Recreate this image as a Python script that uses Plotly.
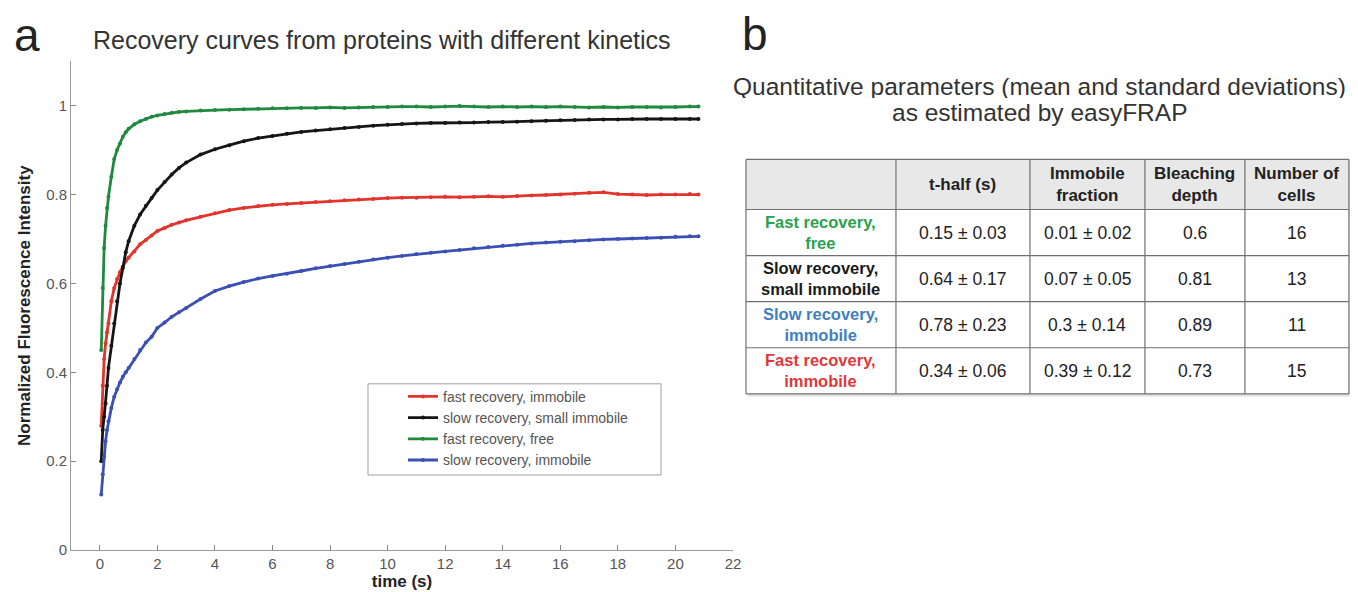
import plotly.graph_objects as go

# figure size and the mapping from the reference picture's pixels to paper fractions
W, H = 1358, 585
OFF = 8                 # browser body margin
SX, SY = 0.9942, 0.9845  # measured page -> picture scaling

# ---------------- data ----------------
time_s = [0.05, 0.1, 0.15, 0.2, 0.25, 0.3, 0.4, 0.5, 0.6, 0.7, 0.8, 0.9, 1.0,
          1.2, 1.4, 1.6, 1.8, 2.0, 2.25, 2.5, 2.75, 3.0, 3.5, 4.0, 4.5, 5.0,
          5.5, 6.0, 6.5, 7.0, 7.5, 8.0, 8.5, 9.0, 9.5, 10.0, 10.5, 11.0, 11.5,
          12.0, 12.5, 13.0, 13.5, 14.0, 14.5, 15.0, 15.5, 16.0, 16.5, 17.0,
          17.5, 18.0, 18.5, 19.0, 19.5, 20.0, 20.5, 20.8]

fast_immobile = [0.28, 0.37, 0.43, 0.465, 0.49, 0.51, 0.56, 0.59, 0.61, 0.625,
                 0.638, 0.65, 0.658, 0.672, 0.688, 0.698, 0.708, 0.718, 0.725,
                 0.732, 0.737, 0.742, 0.75, 0.758, 0.765, 0.77, 0.774, 0.777,
                 0.779, 0.781, 0.783, 0.785, 0.787, 0.789, 0.79, 0.792, 0.793,
                 0.793, 0.794, 0.795, 0.794, 0.795, 0.796, 0.795, 0.797, 0.798,
                 0.799, 0.8, 0.802, 0.804, 0.805, 0.801, 0.8, 0.799, 0.8, 0.8,
                 0.801, 0.8]

slow_small_immobile = [0.2, 0.27, 0.3, 0.33, 0.37, 0.41, 0.46, 0.51, 0.56, 0.6,
                       0.635, 0.67, 0.695, 0.73, 0.755, 0.775, 0.792, 0.81,
                       0.828, 0.845, 0.86, 0.872, 0.89, 0.902, 0.911, 0.92,
                       0.927, 0.932, 0.937, 0.941, 0.944, 0.947, 0.95, 0.952,
                       0.955, 0.957, 0.959, 0.96, 0.961, 0.961, 0.962, 0.962,
                       0.963, 0.963, 0.964, 0.965, 0.966, 0.967, 0.968, 0.969,
                       0.969, 0.969, 0.97, 0.97, 0.97, 0.97, 0.97, 0.97]

fast_free = [0.45, 0.59, 0.68, 0.73, 0.77, 0.795, 0.84, 0.88, 0.9, 0.915,
             0.93, 0.94, 0.948, 0.958, 0.965, 0.97, 0.975, 0.978, 0.981,
             0.984, 0.986, 0.987, 0.989, 0.99, 0.991, 0.992, 0.993, 0.994,
             0.994, 0.995, 0.995, 0.996, 0.995, 0.996, 0.997, 0.997, 0.998,
             0.998, 0.997, 0.998, 0.999, 0.998, 0.997, 0.998, 0.997, 0.998,
             0.997, 0.998, 0.997, 0.996, 0.997, 0.996, 0.997, 0.997, 0.996,
             0.997, 0.998, 0.998]

slow_immobile = [0.125, 0.17, 0.21, 0.245, 0.27, 0.29, 0.32, 0.345, 0.362,
                 0.377, 0.39, 0.4, 0.41, 0.43, 0.45, 0.467, 0.48, 0.5, 0.512,
                 0.525, 0.535, 0.545, 0.565, 0.583, 0.594, 0.603, 0.611, 0.617,
                 0.622, 0.628, 0.634, 0.639, 0.644, 0.649, 0.654, 0.658, 0.662,
                 0.666, 0.669, 0.672, 0.675, 0.679, 0.682, 0.685, 0.687, 0.69,
                 0.692, 0.694, 0.695, 0.697, 0.699, 0.7, 0.701, 0.702, 0.703,
                 0.705, 0.706, 0.706]

series_names = ["fast recovery, immobile", "slow recovery, small immobile",
                "fast recovery, free", "slow recovery, immobile"]
series_values = [fast_immobile, slow_small_immobile, fast_free, slow_immobile]
series_colors = ["#e2342c", "#151515", "#1f8a3e", "#3b50b4"]

x_tick_vals = [0, 2, 4, 6, 8, 10, 12, 14, 16, 18, 20, 22]
y_tick_vals = [0, 0.2, 0.4, 0.6, 0.8, 1.0]
y_tick_text = ["0", "0.2", "0.4", "0.6", "0.8", "1"]

table_header = ["", "t-half (s)", "Immobile<br>fraction", "Bleaching<br>depth",
                "Number of<br>cells"]
row_labels = ["Fast recovery,<br>free", "Slow recovery,<br>small immobile",
              "Slow recovery,<br>immobile", "Fast recovery,<br>immobile"]
row_label_colors = ["#2aa24c", "#1a1a1a", "#3f7fbf", "#e0383a"]
t_half = ["0.15 ± 0.03", "0.64 ± 0.17", "0.78 ± 0.23", "0.34 ± 0.06"]
immobile_fraction = ["0.01 ± 0.02", "0.07 ± 0.05", "0.3 ± 0.14", "0.39 ± 0.12"]
bleaching_depth = ["0.6", "0.81", "0.89", "0.73"]
number_of_cells = ["16", "13", "11", "15"]

# ---------------- layout helpers (picture pixel -> paper fraction) ----------------
FONT = "Arial, 'Liberation Sans', sans-serif"
def px(x):
    return (x / SX - OFF) / W
def py(y):
    return 1 - (y / SY - OFF) / H

fig = go.Figure()

for name, vals, col in zip(series_names, series_values, series_colors):
    fig.add_trace(go.Scatter(
        x=time_s, y=vals, name=name, mode="lines+markers",
        line=dict(color=col, width=2.8),
        marker=dict(color=col, size=4),
    ))

# ---------------- table (panel b) ----------------
col_edges = [746, 896, 1030, 1145, 1245, 1349]
row_edges = [159, 209, 255, 301, 347, 393]
TXT = "#222"
shapes = []
annotations = []

shapes.append(dict(type="rect", xref="paper", yref="paper", layer="below",
                   x0=px(col_edges[0] + 2), x1=px(col_edges[-1] + 2),
                   y0=py(row_edges[-1] + 3), y1=py(row_edges[0] + 2),
                   line=dict(width=0), fillcolor="#e4e4e4"))
shapes.append(dict(type="rect", xref="paper", yref="paper", layer="below",
                   x0=px(col_edges[0]), x1=px(col_edges[-1]),
                   y0=py(row_edges[-1]), y1=py(row_edges[0]),
                   line=dict(width=0), fillcolor="white"))
shapes.append(dict(type="rect", xref="paper", yref="paper", layer="below",
                   x0=px(col_edges[0]), x1=px(col_edges[-1]),
                   y0=py(row_edges[1]), y1=py(row_edges[0]),
                   line=dict(width=0), fillcolor="#e8e8e8"))
for xe in col_edges:
    shapes.append(dict(type="line", xref="paper", yref="paper",
                       x0=px(xe), x1=px(xe), y0=py(row_edges[-1]), y1=py(row_edges[0]),
                       line=dict(color="#707070", width=1.2)))
for ye in row_edges:
    shapes.append(dict(type="line", xref="paper", yref="paper",
                       x0=px(col_edges[0]), x1=px(col_edges[-1]), y0=py(ye), y1=py(ye),
                       line=dict(color="#707070", width=1.2)))

def cell_center(ci, ri):
    return ((col_edges[ci] + col_edges[ci + 1]) / 2, (row_edges[ri] + row_edges[ri + 1]) / 2)

for ci, h in enumerate(table_header):
    if h:
        cx, cy = cell_center(ci, 0)
        annotations.append(dict(text="<b>" + h + "</b>", x=px(cx), y=py(cy),
                                xref="paper", yref="paper", showarrow=False,
                                xanchor="center", yanchor="middle", align="center",
                                font=dict(size=17, color=TXT)))

value_cols = [t_half, immobile_fraction, bleaching_depth, number_of_cells]
for ri in range(len(row_labels)):
    cx, cy = cell_center(0, ri + 1)
    annotations.append(dict(text="<b>" + row_labels[ri] + "</b>", x=px(cx), y=py(cy),
                            xref="paper", yref="paper", showarrow=False,
                            xanchor="center", yanchor="middle", align="center",
                            font=dict(size=16.5, color=row_label_colors[ri])))
    for ci, col in enumerate(value_cols):
        cx, cy = cell_center(ci + 1, ri + 1)
        annotations.append(dict(text=col[ri], x=px(cx), y=py(cy),
                                xref="paper", yref="paper", showarrow=False,
                                xanchor="center", yanchor="middle",
                                font=dict(size=17.5, color=TXT)))

# legend frame
shapes.append(dict(type="rect", xref="paper", yref="paper",
                   x0=px(368), x1=px(661), y0=py(474), y1=py(383),
                   line=dict(color="#a0a0a0", width=1), fillcolor="rgba(0,0,0,0)"))

def label(text, x, y, size, color="#333", height=None):
    a = dict(text=text, x=px(x), y=py(y), xref="paper", yref="paper",
             showarrow=False, xanchor="center", yanchor="middle",
             font=dict(size=size, color=color))
    if height:
        a["height"] = height
        a["valign"] = "middle"
    annotations.append(a)

label("a", 27, 35, 46, "#222")
label("b", 755, 34, 46, "#222")
label("Recovery curves from proteins with different kinetics", 382, 40, 25)
label("Quantitative parameters (mean and standard deviations)", 1040, 86, 24.5, height=23)
label("as estimated by easyFRAP", 1040, 112, 24.5, height=27)

fig.update_layout(
    width=W, height=H,
    margin=dict(l=0, r=0, t=0, b=0),
    paper_bgcolor="white", plot_bgcolor="white",
    font=dict(family=FONT, color="#333"),
    showlegend=True,
    legend=dict(x=px(403), y=py(380), xanchor="left", yanchor="top",
                bgcolor="rgba(0,0,0,0)", borderwidth=0, tracegroupgap=0,
                font=dict(size=14, color="#555", family=FONT)),
    xaxis=dict(domain=[px(71), px(733)], range=[-1, 22],
               tickvals=x_tick_vals, ticks="inside", ticklen=5,
               tickcolor="#888", showline=True, linecolor="#999",
               linewidth=1, showgrid=False, zeroline=False,
               tickfont=dict(size=15, color="#555"),
               title=dict(text="<b>time (s)</b>", standoff=2,
                          font=dict(size=17, color="#222"))),
    yaxis=dict(domain=[py(549), py(61)], range=[0, 1.1],
               tickvals=y_tick_vals, ticktext=y_tick_text, ticks="inside",
               ticklen=5, tickcolor="#888", showline=True, linecolor="#999",
               linewidth=1, showgrid=False, zeroline=False,
               tickfont=dict(size=15, color="#555"),
               title=dict(text="<b>Normalized Fluorescence Intensity</b>",
                          standoff=11, font=dict(size=17, color="#222"))),
    shapes=shapes,
    annotations=annotations,
)

fig.write_html("out.html")
